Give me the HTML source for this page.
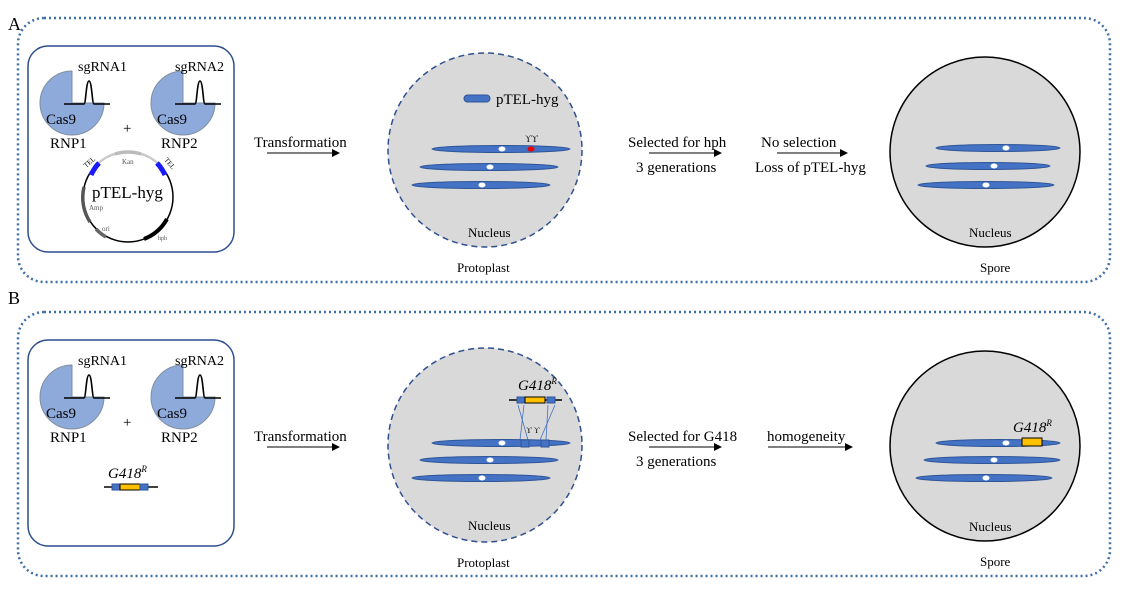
<!DOCTYPE html>
<html><head><meta charset="utf-8"><style>
body{margin:0;background:#fff}
svg{display:block}
text{font-family:"Liberation Serif",serif;fill:#000}
</style></head><body>
<svg width="1123" height="592" viewBox="0 0 1123 592" xmlns="http://www.w3.org/2000/svg">
<defs>
<marker id="ar" markerWidth="8" markerHeight="8" refX="7" refY="4" orient="auto" markerUnits="userSpaceOnUse"><path d="M0,0 L8,4 L0,8z" fill="#000"/></marker>
<g id="rnp">
<path d="M0,0 L0,-32 A32,32 0 1 0 32,0 Z" fill="#8eaadb" stroke="#7f8f9f" stroke-width="1"/>
<path d="M-8,1 L12,1 C14,1 14,-22 17,-22 C20,-22 20,1 22,1 L38,1" fill="none" stroke="#000" stroke-width="1.6"/>
</g>
</defs>
<rect fill="#fff" width="1123" height="592"/>
<!-- Panel A -->
<text x="8" y="30" font-size="18">A</text>
<rect x="18" y="18" width="1092" height="264" rx="26" fill="none" stroke="#3f6fa8" stroke-width="2.5" stroke-dasharray="2,3"/>
<rect x="28" y="46" width="206" height="206" rx="20" fill="none" stroke="#2f4f8f" stroke-width="1.5"/>
<use href="#rnp" x="72" y="103"/>
<use href="#rnp" x="183" y="103"/>
<text x="78" y="71" font-size="14">sgRNA1</text>
<text x="175" y="71" font-size="14">sgRNA2</text>
<text x="46" y="124" font-size="15">Cas9</text>
<text x="157" y="124" font-size="15">Cas9</text>
<text x="50" y="148" font-size="15">RNP1</text>
<text x="161" y="148" font-size="15">RNP2</text>
<text x="123" y="133" font-size="15" fill="#3a6">+</text>
<!-- plasmid -->
<circle cx="128" cy="197" r="45" fill="none" stroke="#000" stroke-width="1.5"/>
<path d="M96,165 A45,45 0 0 1 160,165" fill="none" stroke="#ccc" stroke-width="2"/>
<path d="M115,154 A45,45 0 0 1 141,154" fill="none" stroke="#bbb" stroke-width="3.5"/>
<path d="M91,175 A45,45 0 0 1 99,163" stroke="#1a1aff" stroke-width="5" fill="none"/>
<path d="M157,163 A45,45 0 0 1 165,175" stroke="#1a1aff" stroke-width="5" fill="none"/>
<path d="M84,187 A45,45 0 0 0 90,222" stroke="#555" stroke-width="3.5" fill="none"/>
<path d="M96,229 A45,45 0 0 0 106,237" stroke="#666" stroke-width="3.5" fill="none"/>
<path d="M144,239 A45,45 0 0 0 167,219" stroke="#000" stroke-width="4" fill="none"/>
<text x="86" y="168" font-size="7" fill="#1a1aff" font-family="Liberation Sans" transform="rotate(-40 86 168)">TEL</text>
<text x="164" y="160" font-size="7" fill="#1a1aff" font-family="Liberation Sans" transform="rotate(50 164 160)">TEL</text>
<text x="122" y="164" font-size="7" font-family="Liberation Sans" style="fill:#555">Kan</text>
<text x="89" y="210" font-size="7" font-family="Liberation Sans" style="fill:#555">Amp</text>
<text x="102" y="231" font-size="7" font-family="Liberation Sans" style="fill:#555">ori</text>
<text x="158" y="240" font-size="6" font-family="Liberation Sans" style="fill:#555">hph</text>
<text x="92" y="198" font-size="17">pTEL-hyg</text>
<!-- nucleus A -->
<circle cx="485" cy="150" r="97" fill="#d9d9d9" stroke="#2f4f8f" stroke-width="1.5" stroke-dasharray="6,4"/>
<rect x="464" y="95" width="26" height="7" rx="3.5" fill="#4472c4" stroke="#2f5597"/>
<text x="496" y="104" font-size="15">pTEL-hyg</text>
<g fill="#4472c4" stroke="#2f5597" stroke-width="1">
<ellipse cx="501" cy="149" rx="69" ry="3.5"/>
<ellipse cx="489" cy="167" rx="69" ry="3.5"/>
<ellipse cx="481" cy="185" rx="69" ry="3.5"/>
</g>
<g fill="#fff"><ellipse cx="502" cy="149" rx="3.5" ry="2.5"/><ellipse cx="490" cy="167" rx="3.5" ry="2.5"/><ellipse cx="482" cy="185" rx="3.5" ry="2.5"/></g>
<ellipse cx="531" cy="149" rx="3.5" ry="2.5" fill="#e00"/>
<text x="525" y="142" font-size="9">ϒϒ</text>
<text x="468" y="237" font-size="13">Nucleus</text>
<text x="457" y="272" font-size="13">Protoplast</text>
<!-- arrows A -->
<text x="254" y="147" font-size="15">Transformation</text>
<line x1="267" y1="153" x2="339" y2="153" stroke="#000" marker-end="url(#ar)"/>
<text x="628" y="147" font-size="15">Selected for hph</text>
<line x1="649" y1="153" x2="721" y2="153" stroke="#000" marker-end="url(#ar)"/>
<text x="636" y="172" font-size="15">3 generations</text>
<text x="761" y="147" font-size="15">No selection</text>
<line x1="777" y1="153" x2="847" y2="153" stroke="#000" marker-end="url(#ar)"/>
<text x="755" y="172" font-size="15">Loss of pTEL-hyg</text>
<!-- spore A -->
<circle cx="985" cy="152" r="95" fill="#d9d9d9" stroke="#000" stroke-width="1.5"/>
<g fill="#4472c4" stroke="#2f5597">
<ellipse cx="998" cy="148" rx="62" ry="3.5"/>
<ellipse cx="988" cy="166" rx="62" ry="3.5"/>
<ellipse cx="986" cy="185" rx="68" ry="3.5"/>
</g>
<g fill="#fff"><ellipse cx="1006" cy="148" rx="3.5" ry="2.5"/><ellipse cx="994" cy="166" rx="3.5" ry="2.5"/><ellipse cx="986" cy="185" rx="3.5" ry="2.5"/></g>
<text x="969" y="237" font-size="13">Nucleus</text>
<text x="980" y="272" font-size="13">Spore</text>

<!-- Panel B -->
<text x="8" y="304" font-size="18">B</text>
<rect x="18" y="312" width="1092" height="264" rx="26" fill="none" stroke="#3f6fa8" stroke-width="2.5" stroke-dasharray="2,3"/>
<rect x="28" y="340" width="206" height="206" rx="20" fill="none" stroke="#2f4f8f" stroke-width="1.5"/>
<use href="#rnp" x="72" y="397"/>
<use href="#rnp" x="183" y="397"/>
<text x="78" y="365" font-size="14">sgRNA1</text>
<text x="175" y="365" font-size="14">sgRNA2</text>
<text x="46" y="418" font-size="15">Cas9</text>
<text x="157" y="418" font-size="15">Cas9</text>
<text x="50" y="442" font-size="15">RNP1</text>
<text x="161" y="442" font-size="15">RNP2</text>
<text x="123" y="427" font-size="15" fill="#3a6">+</text>
<text x="108" y="478" font-size="15" font-style="italic">G418<tspan font-size="9" dy="-6">R</tspan></text>
<line x1="104" y1="487" x2="158" y2="487" stroke="#000" stroke-width="1.5"/>
<rect x="112" y="484" width="8" height="6" fill="#4472c4" stroke="#2f5597"/>
<rect x="120" y="484" width="20" height="6" fill="#ffc000" stroke="#000"/>
<rect x="140" y="484" width="8" height="6" fill="#4472c4" stroke="#2f5597"/>
<!-- nucleus B -->
<circle cx="485" cy="445" r="97" fill="#d9d9d9" stroke="#2f4f8f" stroke-width="1.5" stroke-dasharray="6,4"/>
<text x="518" y="390" font-size="15" font-style="italic">G418<tspan font-size="9" dy="-6">R</tspan></text>
<line x1="509" y1="400" x2="562" y2="400" stroke="#000" stroke-width="1.5"/>
<rect x="517" y="397" width="8" height="6" fill="#4472c4" stroke="#2f5597"/>
<rect x="525" y="397" width="20" height="6" fill="#ffc000" stroke="#000"/>
<rect x="547" y="397" width="8" height="6" fill="#4472c4" stroke="#2f5597"/>
<g stroke="#4472c4" stroke-width="0.8">
<line x1="518" y1="405" x2="528" y2="440"/><line x1="524" y1="405" x2="520" y2="440"/>
<line x1="548" y1="405" x2="546" y2="440"/><line x1="555" y1="405" x2="540" y2="440"/>
</g>
<text x="526" y="433" font-size="8">ϒ ϒ</text>
<g fill="#4472c4" stroke="#2f5597">
<ellipse cx="501" cy="443" rx="69" ry="3.5"/>
<ellipse cx="489" cy="460" rx="69" ry="3.5"/>
<ellipse cx="481" cy="478" rx="69" ry="3.5"/>
</g>
<rect x="521" y="440" width="8" height="7" fill="#4472c4" stroke="#2f5597"/>
<rect x="541" y="440" width="8" height="7" fill="#4472c4" stroke="#2f5597"/>
<g fill="#fff"><ellipse cx="502" cy="443" rx="3.5" ry="2.5"/><ellipse cx="490" cy="460" rx="3.5" ry="2.5"/><ellipse cx="482" cy="478" rx="3.5" ry="2.5"/></g>
<text x="468" y="530" font-size="13">Nucleus</text>
<text x="457" y="567" font-size="13">Protoplast</text>
<!-- arrows B -->
<text x="254" y="441" font-size="15">Transformation</text>
<line x1="267" y1="447" x2="339" y2="447" stroke="#000" marker-end="url(#ar)"/>
<text x="628" y="441" font-size="15">Selected for G418</text>
<line x1="649" y1="447" x2="721" y2="447" stroke="#000" marker-end="url(#ar)"/>
<text x="636" y="466" font-size="15">3 generations</text>
<text x="767" y="441" font-size="15">homogeneity</text>
<line x1="768" y1="447" x2="852" y2="447" stroke="#000" marker-end="url(#ar)"/>
<!-- spore B -->
<circle cx="985" cy="446" r="95" fill="#d9d9d9" stroke="#000" stroke-width="1.5"/>
<text x="1013" y="432" font-size="15" font-style="italic">G418<tspan font-size="9" dy="-6">R</tspan></text>
<g fill="#4472c4" stroke="#2f5597">
<ellipse cx="998" cy="443" rx="62" ry="3.5"/>
<ellipse cx="992" cy="460" rx="68" ry="3.5"/>
<ellipse cx="984" cy="478" rx="68" ry="3.5"/>
</g>
<rect x="1022" y="438" width="20" height="8" fill="#ffc000" stroke="#000"/>
<g fill="#fff"><ellipse cx="1006" cy="443" rx="3.5" ry="2.5"/><ellipse cx="994" cy="460" rx="3.5" ry="2.5"/><ellipse cx="986" cy="478" rx="3.5" ry="2.5"/></g>
<text x="969" y="531" font-size="13">Nucleus</text>
<text x="980" y="566" font-size="13">Spore</text>
</svg>
</body></html>
